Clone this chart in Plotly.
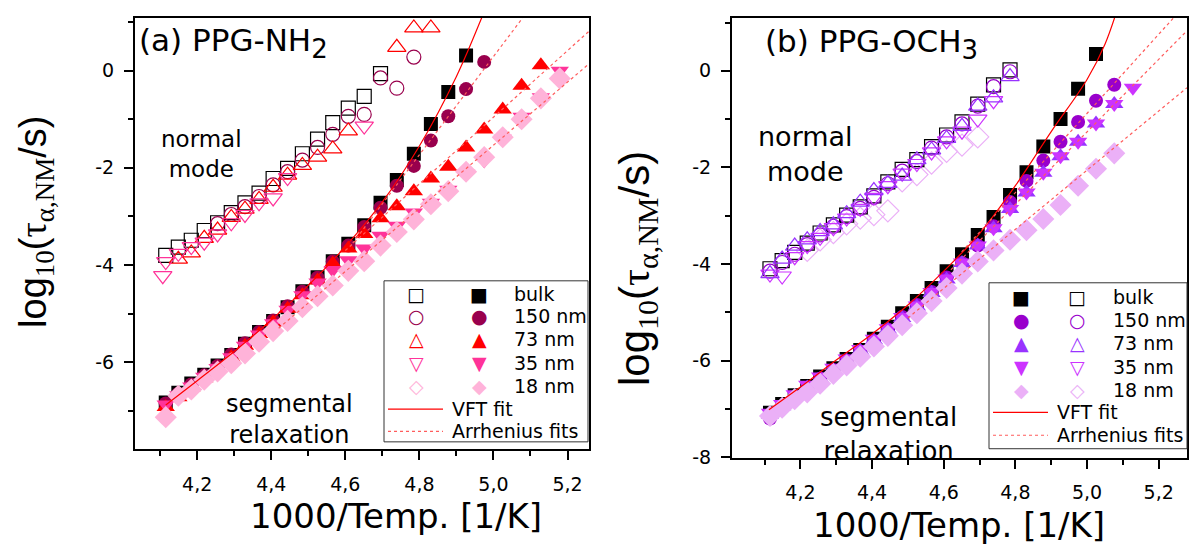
import plotly.graph_objects as go

W, H = 1204, 552

# ---------------- data: panel (a) PPG-NH2 ----------------
xa = [4.115, 4.149, 4.184, 4.219, 4.255, 4.292, 4.329, 4.367, 4.405, 4.444, 4.484, 4.525, 4.566,
      4.608, 4.651, 4.695, 4.739, 4.785, 4.831, 4.878, 4.926, 4.975, 5.025, 5.076, 5.128, 5.179]
a_seg_bulk = [-6.83, -6.63, -6.44, -6.26, -6.07, -5.85, -5.62, -5.38, -5.15, -4.87, -4.54, -4.25, -3.92,
              -3.56, -3.18, -2.72, -2.25, -1.71, -1.10, -0.44, 0.31, None, None, None, None, None]
a_seg_150 = [-6.85, -6.65, -6.46, -6.27, -6.08, -5.84, -5.61, -5.38, -5.14, -4.85, -4.55, -4.26, -3.93,
             -3.60, -3.22, -2.82, -2.37, -1.96, -1.44, -0.94, -0.38, 0.18, None, None, None, None]
a_seg_73 = [-6.92, -6.72, -6.52, -6.33, -6.13, -5.90, -5.66, -5.42, -5.18, -4.90, -4.62, -4.32, -3.97,
            -3.66, -3.36, -3.04, -2.79, -2.48, -2.22, -1.98, -1.58, -1.21, -0.80, -0.31, 0.11, None]
a_seg_35 = [-6.87, -6.68, -6.50, -6.30, -6.12, -5.90, -5.66, -5.43, -5.20, -4.92, -4.62, -4.36, -4.10,
            -3.90, -3.66, -3.40, -3.19, -2.92, -2.72, -2.45, -2.12, -1.85, -1.40, -0.95, -0.55, 0.00]
a_seg_18 = [-7.13, -6.69, -6.56, -6.36, -6.19, -6.02, -5.82, -5.58, -5.36, -5.15, -4.87, -4.64, -4.42,
            -4.12, -3.92, -3.60, -3.32, -3.06, -2.75, -2.48, -2.08, -1.78, -1.37, -1.00, -0.57, -0.16]

a_nm_bulk = [-3.80, -3.63, -3.49, -3.29, -3.13, -2.92, -2.72, -2.52, -2.22, -2.01, -1.71, -1.41, -1.07,
             -0.77, -0.53, -0.06, None, None, None, None, None, None, None, None, None, None]
a_nm_150 = [None, None, None, None, -3.15, -2.96, -2.80, -2.59, -2.35, -2.08, -1.84, -1.58, -1.31,
            -0.94, -0.90, -0.15, -0.36, 0.28, None, None, None, None, None, None, None, None]
a_nm_73 = [None, -3.88, -3.75, -3.45, -3.28, -3.02, -2.85, -2.65, -2.40, -2.15, -1.95, -1.78, -1.61,
           -1.24, None, None, 0.48, 0.88, 0.88, None, None, None, None, None, None, None]
a_nm_35_x = [4.107, 4.115, 4.149, 4.184, 4.219, 4.255, 4.292, 4.329, 4.367, 4.405, 4.444, 4.651]
a_nm_35 = [-4.22, -3.93, -3.76, -3.62, -3.53, -3.36, -3.13, -2.96, -2.72, -2.62, -2.20, -1.14]

a_vft_x = [4.115, 4.2, 4.3, 4.4, 4.5, 4.6, 4.7, 4.8, 4.9, 4.97, 5.0]
a_vft_y = [-6.88, -6.38, -5.78, -5.13, -4.42, -3.62, -2.70, -1.55, -0.12, 1.12, 1.70]
a_arr1_x = [4.62, 5.10]
a_arr1_y = [-3.55, 1.30]
a_arr2_x = [4.60, 5.258]
a_arr2_y = [-3.70, 0.81]
a_arr3_x = [4.42, 5.258]
a_arr3_y = [-5.30, 0.14]

# ---------------- data: panel (b) PPG-OCH3 ----------------
xb = [4.115, 4.149, 4.184, 4.219, 4.255, 4.292, 4.329, 4.367, 4.405, 4.444, 4.484, 4.525, 4.566,
      4.608, 4.651, 4.695, 4.739, 4.785, 4.831, 4.878, 4.926, 4.975, 5.025, 5.076, 5.128]
b_seg_bulk = [-7.08, -6.90, -6.72, -6.53, -6.33, -6.16, -5.97, -5.78, -5.55, -5.30, -5.02, -4.77, -4.50,
              -4.15, -3.80, -3.40, -3.03, -2.57, -2.10, -1.57, -1.00, -0.37, 0.35, None, None]
b_seg_150 = [-7.20, -6.97, -6.78, -6.58, -6.38, -6.20, -6.01, -5.82, -5.60, -5.36, -5.10, -4.85, -4.58,
             -4.28, -3.98, -3.62, -3.22, -2.72, -2.28, -1.86, -1.47, -1.06, -0.62, -0.29, None]
b_seg_73 = [-7.12, -6.95, -6.75, -6.56, -6.38, -6.20, -6.00, -5.80, -5.58, -5.36, -5.12, -4.88, -4.60,
            -4.32, -3.98, -3.62, -3.26, -2.86, -2.52, -2.11, -1.77, -1.47, -1.09, -0.69, None]
b_seg_35 = [-7.08, -6.90, -6.70, -6.50, -6.33, -6.15, -5.96, -5.76, -5.55, -5.33, -5.10, -4.86, -4.58,
            -4.30, -3.97, -3.62, -3.26, -2.86, -2.52, -2.11, -1.77, -1.47, -1.09, -0.69, -0.35]
b_seg_18 = [-7.15, -6.98, -6.80, -6.66, -6.48, -6.28, -6.10, -5.92, -5.71, -5.49, -5.27, -5.02, -4.77,
            -4.50, -4.20, -3.95, -3.72, -3.50, -3.30, -3.07, -2.78, -2.38, -2.03, -1.71, None]

b_nm_bulk = [-4.10, -3.93, -3.76, -3.57, -3.36, -3.19, -2.99, -2.82, -2.59, -2.30, -2.04, -1.84, -1.57,
             -1.33, -1.06, -0.69, -0.29, 0.02, None, None, None, None, None, None, None]
b_nm_150 = [-4.15, -3.97, -3.80, -3.60, -3.40, -3.22, -3.02, -2.85, -2.62, -2.34, -2.08, -1.88, -1.60,
            -1.37, -1.10, -0.73, -0.33, -0.02, None, None, None, None, None, None, None]
b_nm_73 = [-4.20, -3.90, -3.63, -3.50, -3.33, -3.19, -2.96, -2.72, -2.48, -2.33, -2.18, -1.84, -1.64,
           -1.40, -1.15, -0.73, -0.56, -0.12, None, None, None, None, None, None, None]
b_nm_35 = [-4.21, -4.25, -3.85, -3.62, -3.45, -3.25, -3.05, -2.85, -2.62, -2.38, -2.12, -1.92, -1.68,
           -1.45, -1.25, -1.00, -0.62, None, None, None, None, None, None, None, None]
b_nm_18 = [None, None, None, -3.72, -3.50, -3.35, -3.17, -3.05, -2.98, -2.90, -2.28, -2.15, -1.91,
           -1.67, -1.54, -1.37, None, None, None, None, None, None, None, None, None]

b_vft_x = [4.112, 4.2, 4.3, 4.4, 4.5, 4.6, 4.7, 4.8, 4.9, 5.0, 5.05, 5.09]
b_vft_y = [-7.02, -6.55, -5.99, -5.45, -4.85, -4.15, -3.37, -2.38, -1.26, -0.18, 0.55, 1.40]
b_arr1_x = [4.65, 5.242]
b_arr1_y = [-3.75, 1.10]
b_arr2_x = [4.62, 5.279]
b_arr2_y = [-4.12, 0.83]
b_arr3_x = [4.50, 5.279]
b_arr3_y = [-5.12, -0.35]

# ---------------- axes / labels ----------------
x_tickvals = [4.2, 4.4, 4.6, 4.8, 5.0, 5.2]
x_ticktext = ["4,2", "4,4", "4,6", "4,8", "5,0", "5,2"]
x_minor = [4.1, 4.3, 4.5, 4.7, 4.9, 5.1]
a_y_tickvals = [-6, -4, -2, 0]
a_y_ticktext = ["-6", "-4", "-2", "0"]
a_y_minor = [-7, -5, -3, -1, 1]
b_y_tickvals = [-8, -6, -4, -2, 0]
b_y_ticktext = ["-8", "-6", "-4", "-2", "0"]
b_y_minor = [-7, -5, -3, -1, 1]

legend_labels = ["bulk", "150 nm", "73 nm", "35 nm", "18 nm"]

# ---------------- styling ----------------
SANS = "Liberation Sans, Arial, sans-serif"
WIDE = "DejaVu Sans, sans-serif"
SYM = "DejaVu Sans, sans-serif"

col_a = {"bulk": "#000000", "150": "#99004d", "73": "#ff0000", "35": "#ff3399", "18": "#ffb3d9"}
col_b = {"bulk": "#000000", "150": "#9900cc", "73": "#9933ff", "35": "#cc33ff", "18": "#ebb0f7"}

MS = 14
fig = go.Figure()


def add_pts(x, y, sym, color, xa_, ya_, filled=True, size=MS):
    if filled:
        marker = dict(symbol=sym, size=size, color=color, line=dict(width=0))
    else:
        marker = dict(symbol=sym + "-open", size=size, color=color, line=dict(width=1.2, color=color))
    fig.add_trace(go.Scatter(x=x, y=y, mode="markers", marker=marker, xaxis=xa_, yaxis=ya_,
                             showlegend=False, hoverinfo="skip", cliponaxis=True))


def add_line(x, y, color, dash, xa_, ya_, width=1.2, shape="linear"):
    fig.add_trace(go.Scatter(x=x, y=y, mode="lines", line=dict(color=color, width=width, dash=dash, shape=shape),
                             xaxis=xa_, yaxis=ya_, showlegend=False, hoverinfo="skip"))


# panel a: normal mode (open)
add_pts(xa, a_nm_bulk, "square", col_a["bulk"], "x", "y", filled=False)
add_pts(xa, a_nm_150, "circle", col_a["150"], "x", "y", filled=False)
add_pts(xa, a_nm_73, "triangle-up", col_a["73"], "x", "y", filled=False, size=MS + 2)
add_pts(a_nm_35_x, a_nm_35, "triangle-down", col_a["35"], "x", "y", filled=False, size=MS + 2)
# panel a: segmental (filled)
add_pts(xa, a_seg_bulk, "square", col_a["bulk"], "x", "y")
add_pts(xa, a_seg_150, "circle", col_a["150"], "x", "y")
add_pts(xa, a_seg_73, "triangle-up", col_a["73"], "x", "y", size=MS + 2)
add_pts(xa, a_seg_35, "triangle-down", col_a["35"], "x", "y", size=MS + 2)
add_pts(xa, a_seg_18, "diamond", col_a["18"], "x", "y", size=MS + 3)
# fits a
add_line(a_vft_x, a_vft_y, "#ff0000", "solid", "x", "y", width=1.2, shape="spline")
for ax_, ay_ in [(a_arr1_x, a_arr1_y), (a_arr2_x, a_arr2_y), (a_arr3_x, a_arr3_y)]:
    add_line(ax_, ay_, "#ff5c5c", "3px,3px", "x", "y", width=1.2)

# panel b: normal mode (open)
add_pts(xb, b_nm_18, "diamond", col_b["18"], "x2", "y2", filled=False, size=MS + 3)
add_pts(xb, b_nm_bulk, "square", col_b["bulk"], "x2", "y2", filled=False)
add_pts(xb, b_nm_150, "circle", col_b["150"], "x2", "y2", filled=False)
add_pts(xb, b_nm_35, "triangle-down", col_b["35"], "x2", "y2", filled=False, size=MS + 2)
add_pts(xb, b_nm_73, "triangle-up", col_b["73"], "x2", "y2", filled=False, size=MS + 2)
# panel b: segmental (filled)
add_pts(xb, b_seg_bulk, "square", col_b["bulk"], "x2", "y2")
add_pts(xb, b_seg_150, "circle", col_b["150"], "x2", "y2")
add_pts(xb, b_seg_73, "triangle-up", col_b["73"], "x2", "y2", size=MS + 2)
add_pts(xb, b_seg_35, "triangle-down", col_b["35"], "x2", "y2", size=MS + 2)
add_pts(xb, b_seg_18, "diamond", col_b["18"], "x2", "y2", size=MS + 3)
add_line(b_vft_x, b_vft_y, "#ff0000", "solid", "x2", "y2", width=1.2, shape="spline")
for bx_, by_ in [(b_arr1_x, b_arr1_y), (b_arr2_x, b_arr2_y), (b_arr3_x, b_arr3_y)]:
    add_line(bx_, by_, "#ff5c5c", "3px,3px", "x2", "y2", width=1.2)


def px(x):
    return x / W


def py(y):
    return 1 - y / H


axis_common = dict(showline=True, linecolor="black", linewidth=2, mirror=True, ticks="outside",
                   ticklen=9, tickwidth=1.5, tickcolor="black", showgrid=False, zeroline=False,
                   tickfont=dict(family=WIDE, size=19, color="black"), tickmode="array")

minor_common = dict(tickmode="array", ticklen=5, tickwidth=1.5, ticks="outside", tickcolor="black")

fig.update_layout(
    width=W, height=H, margin=dict(l=0, r=0, t=0, b=0),
    paper_bgcolor="white", plot_bgcolor="white", showlegend=False,
    xaxis=dict(domain=[px(135), px(589)], range=[4.032, 5.258], anchor="y",
               tickvals=x_tickvals, ticktext=x_ticktext, ticklabelstandoff=8,
               minor=dict(tickvals=x_minor, **minor_common), **axis_common),
    yaxis=dict(domain=[py(457), py(18)], range=[-7.78, 1.09], anchor="x",
               tickvals=a_y_tickvals, ticktext=a_y_ticktext, ticklabelstandoff=6,
               minor=dict(tickvals=a_y_minor, **minor_common), **axis_common),
    xaxis2=dict(domain=[px(732), px(1187)], range=[4.009, 5.279], anchor="y2",
                tickvals=x_tickvals, ticktext=x_ticktext, ticklabelstandoff=8,
                minor=dict(tickvals=x_minor, **minor_common), **axis_common),
    yaxis2=dict(domain=[py(466), py(18)], range=[-8.01, 1.1], anchor="x2",
                tickvals=b_y_tickvals, ticktext=b_y_ticktext, ticklabelstandoff=6,
                minor=dict(tickvals=b_y_minor, **minor_common), **axis_common),
)

ann = []


def text(x, y, s, size, xanchor="left", yanchor="middle", color="black", family=WIDE, angle=0):
    ann.append(dict(x=px(x), y=py(y), xref="paper", yref="paper", text=s, showarrow=False,
                    xanchor=xanchor, yanchor=yanchor, textangle=angle,
                    font=dict(family=family, size=size, color=color)))


# panel titles
text(137, 44, '(a) PPG-NH<sub><span style="font-size:26px">2</span></sub>', 31)
text(763, 45, '(b) PPG-OCH<sub><span style="font-size:26px">3</span></sub>', 31)
# inner labels
text(159, 157, "normal<br>mode", 23)
text(756, 157, "normal<br>mode", 27)
text(224, 427, "segmental<br>relaxation", 24)
text(818, 442, "segmental<br>relaxation", 26)
# axis titles
text(396, 526, "1000/Temp. [1/K]", 34, xanchor="center")
text(959, 535, "1000/Temp. [1/K]", 34, xanchor="center")


def ytitle(size):
    s_sub = round(size * 0.72)
    return ('log<sub><span style="font-family:Liberation Serif;font-size:%dpx">10</span></sub>('
            '<span style="font-family:Liberation Serif;font-size:%dpx">τ</span>'
            '<sub><span style="font-family:Liberation Serif;font-size:%dpx">α,NM</span></sub>/s)'
            % (s_sub, size, s_sub))


text(36, 226, ytitle(38), 38, xanchor="center", angle=-90, family=SANS)
text(637, 274, ytitle(42), 42, xanchor="center", angle=-90, family=SANS)

shapes = []
# legend boxes
shapes.append(dict(type="rect", xref="paper", yref="paper", x0=px(384), x1=px(588), y0=py(450), y1=py(286),
                   line=dict(color="#333333", width=1), fillcolor="white", layer="above"))
shapes.append(dict(type="rect", xref="paper", yref="paper", x0=px(989), x1=px(1187), y0=py(457), y1=py(288),
                   line=dict(color="#333333", width=1), fillcolor="white", layer="above"))

open_syms = ["□", "○", "△", "▽", "◇"]
fill_syms = ["■", "●", "▲", "▼", "◆"]
keys = ["bulk", "150", "73", "35", "18"]
rows_a = [299, 322.3, 345.7, 369.3, 393.3]
rows_b = [302.7, 325.7, 349.3, 373.3, 396.7]
SYMSZ = 19
for i, k in enumerate(keys):
    text(416, rows_a[i], open_syms[i], SYMSZ, xanchor="center", color=col_a[k], family=SYM)
    text(479, rows_a[i], fill_syms[i], SYMSZ, xanchor="center", color=col_a[k], family=SYM)
    text(512, rows_a[i], legend_labels[i], 19)
    text(1021, rows_b[i], fill_syms[i], SYMSZ, xanchor="center", color=col_b[k], family=SYM)
    text(1077, rows_b[i], open_syms[i], SYMSZ, xanchor="center", color=col_b[k], family=SYM)
    text(1111, rows_b[i], legend_labels[i], 19)

shapes.append(dict(type="line", xref="paper", yref="paper", x0=px(388), x1=px(443), y0=py(416.7), y1=py(416.7),
                    line=dict(color="#ff0000", width=1.2)))
shapes.append(dict(type="line", xref="paper", yref="paper", x0=px(388), x1=px(443), y0=py(439.3), y1=py(439.3),
                    line=dict(color="#ff5c5c", width=1.2, dash="3px,3px")))
text(450, 416.7, "VFT fit", 19)
text(450, 439.3, "Arrhenius fits", 19)
shapes.append(dict(type="line", xref="paper", yref="paper", x0=px(993), x1=px(1048), y0=py(420), y1=py(420),
                    line=dict(color="#ff0000", width=1.2)))
shapes.append(dict(type="line", xref="paper", yref="paper", x0=px(993), x1=px(1048), y0=py(443.3), y1=py(443.3),
                    line=dict(color="#ff5c5c", width=1.2, dash="3px,3px")))
text(1055, 420, "VFT fit", 19)
text(1055, 443.3, "Arrhenius fits", 19)

fig.update_layout(annotations=ann, shapes=shapes)
fig.write_html("out.html")
